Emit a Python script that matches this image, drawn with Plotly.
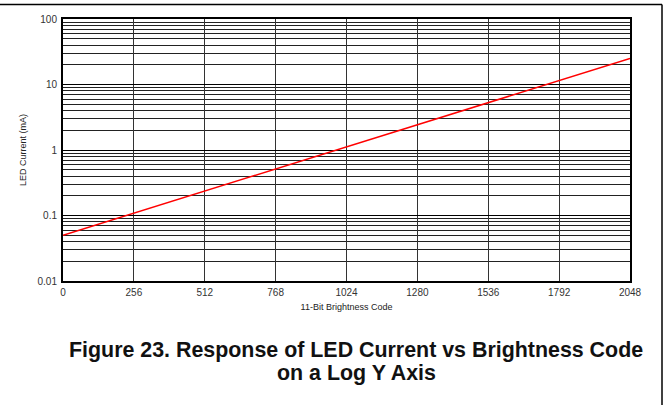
import plotly.graph_objects as go

# brightness code vs LED current (mA)
codes = [0, 256, 512, 768, 1024, 1280, 1536, 1792, 2048]
current_ma = [0.05, 0.109, 0.237, 0.516, 1.12, 2.44, 5.31, 11.6, 25.0]

x_ticks = [0, 256, 512, 768, 1024, 1280, 1536, 1792, 2048]
y_ticks = [0.01, 0.1, 1, 10, 100]
y_labels = ['0.01', '0.1', '1', '10', '100']

title_lines = ['Figure 23. Response of LED Current vs Brightness Code',
               'on a Log Y Axis']

FONT = 'Liberation Sans, Arial, sans-serif'

fig = go.Figure()
fig.add_trace(go.Scatter(
    x=codes, y=current_ma,
    mode='lines',
    line=dict(color='#ff0000', width=1.5),
    showlegend=False,
    hoverinfo='skip',
))

# plot area in pixels: x 63..630, y 19..281
L, R, T, B = 63, 39, 19, 124
W, H = 669 - L - R, 405 - T - B

fig.update_layout(
    width=669, height=405,
    margin=dict(l=L, r=R, t=T, b=B, pad=0),
    paper_bgcolor='white',
    plot_bgcolor='white',
    font=dict(family=FONT, color='#333'),
    xaxis=dict(
        range=[0, 2048],
        automargin=False,
        tickvals=x_ticks,
        ticktext=[str(v) for v in x_ticks],
        tickfont=dict(size=10, color='#333'),
        ticks='outside', ticklen=1, tickcolor='rgba(0,0,0,0)',
        showgrid=True, gridcolor='#333', gridwidth=1,
        zeroline=False,
        showline=True, linecolor='black', linewidth=2, mirror=True,
        title=dict(text='11-Bit Brightness Code', font=dict(size=9, color='#222'), standoff=7),
    ),
    yaxis=dict(
        type='log',
        range=[-2, 2],
        automargin=False,
        tickvals=y_ticks,
        ticktext=y_labels,
        tickfont=dict(size=10, color='#333'),
        ticks='outside', ticklen=2, tickcolor='rgba(0,0,0,0)',
        showgrid=True, gridcolor='black', gridwidth=1,
        minor=dict(dtick='D1', showgrid=True, gridcolor='#222', gridwidth=1, ticks=''),
        zeroline=False,
        showline=True, linecolor='black', linewidth=2, mirror=True,
        title=dict(text='LED Current (mA)', font=dict(size=9, color='#222'), standoff=9),
    ),
)

# figure title below the chart
for i, txt in enumerate(title_lines):
    fig.add_annotation(
        text=f'<b>{txt}</b>',
        xref='paper', yref='paper',
        x=(356 - L) / W, y=-(350 + i * 23 - (T + H)) / H,
        xanchor='center', yanchor='middle',
        showarrow=False,
        font=dict(family=FONT, size=21.4, color='#111'),
    )

# outer document frame (top and right edges)
fx = (662 - L) / W
fy = (T + H - 4.5) / H
fig.add_shape(type='line', xref='paper', yref='paper',
              x0=-1, x1=fx, y0=fy, y1=fy, line=dict(color='black', width=1.5))
fig.add_shape(type='line', xref='paper', yref='paper',
              x0=fx, x1=fx, y0=fy, y1=-1, line=dict(color='black', width=1.5))

# drop the default page margin so the figure sits at the window origin
fig.write_html('out.html', config={'displayModeBar': False},
               post_script="document.body.style.margin='0';")
